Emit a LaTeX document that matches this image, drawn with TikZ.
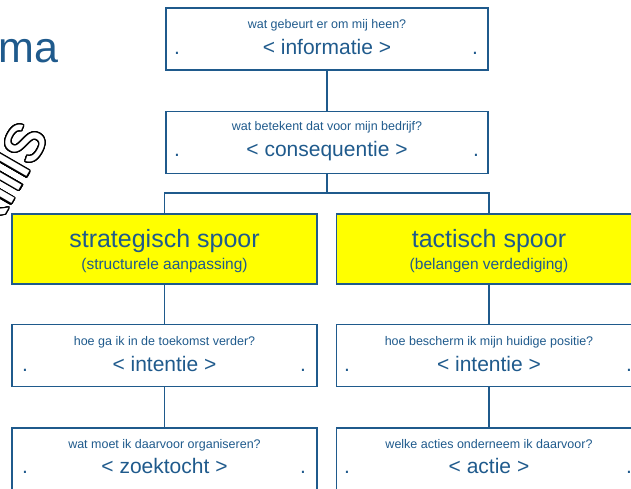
\documentclass[tikz,border=0pt]{standalone}
\usepackage{fontspec}
\setmainfont{Liberation Sans}
\usepackage{contour}
\contourlength{1.2pt}
\contournumber{32}
\definecolor{kaderblauw}{HTML}{1F5A8C}
\definecolor{geel}{HTML}{FFFF00}
\tikzset{
  vraagbox/.style={draw=kaderblauw, line width=1.3pt, minimum width=305pt, minimum height=62pt, inner sep=0pt},
  spoorbox/.style={vraagbox, fill=geel, minimum height=70pt},
  vraag/.style={text=kaderblauw, font=\fontsize{12.5}{14}\selectfont, inner sep=0pt, anchor=base},
  kern/.style={text=kaderblauw, font=\fontsize{21}{24}\selectfont, inner sep=0pt, anchor=base},
  spoor/.style={text=kaderblauw, font=\fontsize{25}{28}\selectfont, inner sep=0pt, anchor=base},
  uitleg/.style={text=kaderblauw, font=\fontsize{15.5}{18}\selectfont, inner sep=0pt, anchor=base},
  verbinding/.style={draw=kaderblauw, line width=1.3pt}
}
\begin{document}
\begin{tikzpicture}[x=1pt,y=-1pt]
\useasboundingbox (0,0) rectangle (631,489);
% titel en schuine tekst links
\node[text=kaderblauw, font=\fontsize{43}{48}\selectfont, inner sep=0pt, anchor=base west] (titel) at (-2,63) {ma};
\node[rotate=60, anchor=base east, inner sep=0pt, font=\fontsize{70}{72}\selectfont] (skills) at (50,137) {\color{white}\contour{black}{skills}};
% bovenste kaders
\node[vraagbox, minimum width=322pt] (info) at (327,39) {};
\node[vraag] (info-v) at (327,29) {wat gebeurt er om mij heen?};
\node[kern] (info-k) at (327,55) {< informatie >};
\node[kern] (info-l) at (177,55) {.};
\node[kern] (info-r) at (475,55) {.};
\node[vraagbox, minimum width=322pt] (cons) at (327,142.5) {};
\node[vraag] (cons-v) at (327,131) {wat betekent dat voor mijn bedrijf?};
\node[kern] (cons-k) at (327,157) {< consequentie >};
\node[kern] (cons-l) at (177,157) {.};
\node[kern] (cons-r) at (476,157) {.};
% twee sporen
\node[spoorbox] (strat) at (164.5,249) {};
\node[spoor] (strat-k) at (164.5,247) {strategisch spoor};
\node[uitleg] (strat-u) at (164.5,269) {(structurele aanpassing)};
\node[spoorbox] (tact) at (489,249) {};
\node[spoor] (tact-k) at (489,247) {tactisch spoor};
\node[uitleg] (tact-u) at (489,269) {(belangen verdediging)};
% intenties
\node[vraagbox] (sint) at (164.5,355.5) {};
\node[vraag] (sint-v) at (164.5,345.5) {hoe ga ik in de toekomst verder?};
\node[kern] (sint-k) at (164.5,371.5) {< intentie >};
\node[kern] (sint-l) at (25,371.5) {.};
\node[kern] (sint-r) at (303,371.5) {.};
\node[vraagbox] (tint) at (489,355.5) {};
\node[vraag] (tint-v) at (489,345.5) {hoe bescherm ik mijn huidige positie?};
\node[kern] (tint-k) at (489,371.5) {< intentie >};
\node[kern] (tint-l) at (347,371.5) {.};
\node[kern] (tint-r) at (629,371.5) {.};
% onderste kaders
\node[vraagbox, minimum height=66pt] (zoek) at (164.5,461) {};
\node[vraag] (zoek-v) at (164.5,448) {wat moet ik daarvoor organiseren?};
\node[kern] (zoek-k) at (164.5,473) {< zoektocht >};
\node[kern] (zoek-l) at (25,473) {.};
\node[kern] (zoek-r) at (303,473) {.};
\node[vraagbox, minimum height=66pt] (actie) at (489,461) {};
\node[vraag] (actie-v) at (489,448) {welke acties onderneem ik daarvoor?};
\node[kern] (actie-k) at (489,473) {< actie >};
\node[kern] (actie-l) at (347,473) {.};
\node[kern] (actie-r) at (629,473) {.};
% verbindingen
\coordinate (splits) at (327,193);
\draw[verbinding] (info) -- (cons);
\draw[verbinding] (cons) -- (splits);
\draw[verbinding] (strat.north) |- (splits) -| (tact.north);
\draw[verbinding] (strat) -- (sint);
\draw[verbinding] (sint) -- (zoek);
\draw[verbinding] (tact) -- (tint);
\draw[verbinding] (tint) -- (actie);
\end{tikzpicture}
\end{document}
